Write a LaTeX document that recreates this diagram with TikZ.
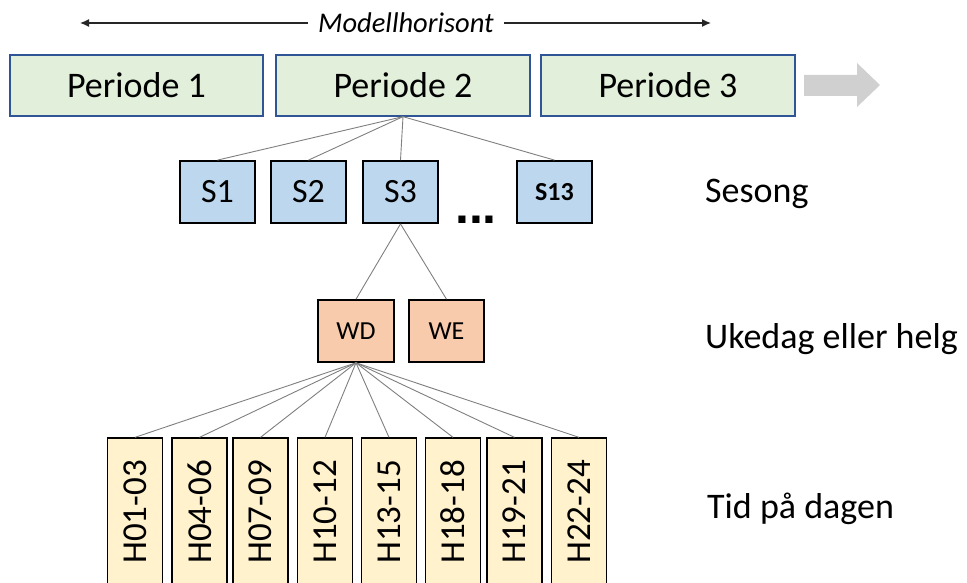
\documentclass[tikz,border=0pt]{standalone}
\usepackage{fontspec}
\setmainfont{Carlito}
\newfontfamily\dotfont{Liberation Sans}
\usetikzlibrary{arrows.meta}

\definecolor{perfill}{HTML}{E2EFDA}
\definecolor{perline}{HTML}{2F5597}
\definecolor{sesfill}{HTML}{BDD7EE}
\definecolor{dayfill}{HTML}{F8CBAD}
\definecolor{hourfill}{HTML}{FFF2CC}
\definecolor{linkgray}{HTML}{7F7F7F}
\definecolor{flowgray}{HTML}{D0D0D0}

\tikzset{
  perbox/.style={draw=perline, line width=1.3pt, fill=perfill, inner sep=0pt,
    minimum height=61pt, font=\fontsize{36}{40}\selectfont},
  sesbox/.style={draw=black, line width=1.8pt, fill=sesfill, inner sep=0pt,
    minimum width=75pt, minimum height=62pt, font=\fontsize{34}{38}\selectfont},
  daybox/.style={draw=black, line width=1.6pt, fill=dayfill, inner sep=0pt,
    minimum width=76pt, minimum height=62pt, font=\fontsize{26}{30}\selectfont},
  hourbox/.style={draw=black, line width=1.3pt, fill=hourfill, inner sep=0pt,
    rotate=90, minimum width=148pt, minimum height=55pt,
    font=\fontsize{35}{38}\selectfont},
  sidelabel/.style={anchor=base west, inner sep=0pt, font=\fontsize{36}{40}\selectfont},
  link/.style={draw=linkgray, line width=0.9pt},
  spanarrow/.style={draw=black!85, line width=1.3pt, -{Latex[length=9pt,width=8pt]}},
}

\begin{document}
\begin{tikzpicture}[x=1pt, y=-1pt]
\useasboundingbox (0,0) rectangle (967,583);

% planning horizon
\node[inner xsep=10pt, inner ysep=0pt, font=\fontsize{28.5}{31}\selectfont\itshape] (mh) at (406,23) {Modellhorisont};
\coordinate (hl) at (80,23);
\coordinate (hr) at (711,23);
\draw[spanarrow] (mh.west) -- (hl);
\draw[spanarrow] (mh.east) -- (hr);

% periods
\node[perbox, minimum width=253pt] (p1) at (136.5,85.5) {Periode 1};
\node[perbox, minimum width=254pt] (p2) at (403,85.5) {Periode 2};
\node[perbox, minimum width=254pt] (p3) at (668,85.5) {Periode 3};

% continuation arrow
\fill[flowgray] (804,75) -- (857,75) -- (857,63) -- (880,85) -- (857,107) -- (857,96) -- (804,96) -- cycle;

% seasons
\node[sesbox] (s1) at (217.5,192) {S1};
\node[sesbox] (s2) at (308.5,192) {S2};
\node[sesbox] (s3) at (400.5,192) {S3};
\node[sesbox, font=\fontsize{26}{30}\selectfont\bfseries] (s13) at (554.5,192) {S13};
\node[anchor=base, inner sep=0pt, font=\dotfont\fontsize{50}{54}\selectfont\bfseries] (dots) at (476,223) {...};

\foreach \s in {s1,s2,s3,s13}
  \draw[link] (p2.south) -- (\s.north);

% weekday / weekend
\node[daybox] (wd) at (356,331) {WD};
\node[daybox, minimum width=75pt] (we) at (446.5,331) {WE};
\draw[link] (s3.south) -- (wd.north);
\draw[link] (s3.south) -- (we.north);

% time of day blocks
\node[hourbox] (h1) at (135,512) {H01-03};
\node[hourbox] (h2) at (199.5,512) {H04-06};
\node[hourbox] (h3) at (260.5,512) {H07-09};
\node[hourbox] (h4) at (325,512) {H10-12};
\node[hourbox] (h5) at (389,512) {H13-15};
\node[hourbox] (h6) at (453,512) {H18-18};
\node[hourbox] (h7) at (514.5,512) {H19-21};
\node[hourbox] (h8) at (579,512) {H22-24};

\foreach \h in {h1,h2,h3,h4,h5,h6,h7,h8}
  \draw[link] (wd.south) -- (\h.east);

% level labels
\node[sidelabel] (lsea) at (705,202) {Sesong};
\node[sidelabel] (lday) at (705,348) {Ukedag eller helg};
\node[sidelabel] (ltime) at (707,518) {Tid på dagen};
\end{tikzpicture}
\end{document}
